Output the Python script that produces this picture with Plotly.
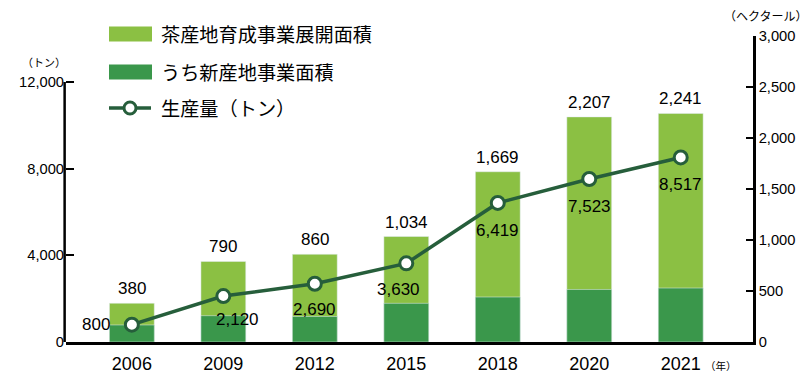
import plotly.graph_objects as go

years = ["2006", "2009", "2012", "2015", "2018", "2020", "2021"]
total_area = [380, 790, 860, 1034, 1669, 2207, 2241]          # 茶産地育成事業展開面積 (ha)
new_area = [167, 258, 250, 379, 441, 515, 529]                 # うち新産地事業面積 (ha)
production = [800, 2120, 2690, 3630, 6419, 7523, 8517]          # 生産量 (トン)
left_ticks = [0, 4000, 8000, 12000]
right_ticks = [0, 500, 1000, 1500, 2000, 2500, 3000]

LIGHT = "#8BC043"
DARK = "#3A974B"
LINE = "#265E3B"
NUM_FONT = "Liberation Sans, Arial, sans-serif"
JP_FONT = "Noto Sans CJK JP, sans-serif"

# the page body has an 8px margin; the figure starts at (8, 8) in the 810x380 window
OFF = 8
W, H = 810 - OFF, 380 - OFF
PL, PR, PT, PB = 66, 753, 36, 342          # plot area in window pixels
ML, MT = PL - OFF, PT - OFF
MR, MB = (W + OFF) - PR, (H + OFF) - PB
PW, PH = PR - PL, PB - PT


def px(x):
    return (x - PL) / PW


def py(y):
    return (PB - y) / PH


fig = go.Figure()
# bars on primary y (right-side area axis), line on y2 (left-side production axis) so it is drawn on top
fig.add_trace(go.Bar(x=years, y=total_area, yaxis="y", marker_color=LIGHT,
                     width=0.49, opacity=1, name="茶産地育成事業展開面積"))
fig.add_trace(go.Bar(x=years, y=new_area, yaxis="y", marker_color=DARK,
                     width=0.49, opacity=1, name="うち新産地事業面積"))
fig.add_trace(go.Scatter(x=years, y=production, yaxis="y2", mode="lines+markers",
                         line=dict(color=LINE, width=3.5),
                         marker=dict(size=13, color="white", line=dict(color=LINE, width=3)),
                         name="生産量（トン）", cliponaxis=False))

annotations = []
for i, v in enumerate(total_area):
    annotations.append(dict(x=i, y=v, xref="x", yref="y", text=f"{v:,}",
                            showarrow=False, xanchor="center", yanchor="bottom", yshift=3,
                            font=dict(family=NUM_FONT, size=17, color="black")))
shifts = [(-36, 0), (14, -23), (0, -26), (-8, -26), (0, -28), (0, -27), (0, -27)]
for i, (v, (dx, dy)) in enumerate(zip(production, shifts)):
    annotations.append(dict(x=i, y=v, xref="x", yref="y2", text=f"{v:,}",
                            showarrow=False, xanchor="center", yanchor="middle",
                            xshift=dx, yshift=dy,
                            font=dict(family=NUM_FONT, size=17, color="black")))

# legend (manual)
legend_rows = [("茶産地育成事業展開面積", 34), ("うち新産地事業面積", 72), ("生産量（トン）", 108)]
shapes = []
for i, (label, yy) in enumerate(legend_rows):
    annotations.append(dict(x=px(159), y=py(yy), xref="paper", yref="paper", text=label,
                            showarrow=False, xanchor="left", yanchor="middle",
                            font=dict(family=JP_FONT, size=19.2, color="black")))
    if i < 2:
        shapes.append(dict(type="rect", xref="paper", yref="paper",
                           x0=px(109), x1=px(152), y0=py(yy + 7.5), y1=py(yy - 7.5),
                           fillcolor=LIGHT if i == 0 else DARK, line=dict(width=0)))
    else:
        shapes.append(dict(type="line", xref="paper", yref="paper",
                           x0=px(109), x1=px(151), y0=py(yy), y1=py(yy),
                           line=dict(color=LINE, width=3.5)))
        shapes.append(dict(type="circle", xref="paper", yref="paper",
                           xsizemode="pixel", ysizemode="pixel",
                           xanchor=px(130), yanchor=py(yy),
                           x0=-6, x1=6, y0=-6, y1=6,
                           fillcolor="white", line=dict(color=LINE, width=3)))

# left axis line only up to 12,000
shapes.append(dict(type="line", xref="paper", yref="y2", x0=-0.002, x1=-0.002,
                   y0=0, y1=left_ticks[-1], line=dict(color="black", width=2.5)))

# unit labels
annotations += [
    dict(x=px(44), y=py(62), xref="paper", yref="paper", text="（トン）", showarrow=False,
         xanchor="center", yanchor="middle",
         font=dict(family=JP_FONT, size=11, color="black")),
    dict(x=px(766), y=py(15), xref="paper", yref="paper", text="（ヘクタール）", showarrow=False,
         xanchor="center", yanchor="middle",
         font=dict(family=JP_FONT, size=12, color="black")),
    dict(x=px(703), y=py(365), xref="paper", yref="paper", text="（年）", showarrow=False,
         xanchor="left", yanchor="middle",
         font=dict(family=JP_FONT, size=10.5, color="black")),
]

fig.update_layout(
    width=W, height=H,
    margin=dict(l=ML, r=MR, t=MT, b=MB, pad=0, autoexpand=False),
    plot_bgcolor="white", paper_bgcolor="white",
    barmode="overlay", showlegend=False,
    xaxis=dict(type="category", range=[-0.72, 6.79], showline=True, linecolor="black",
               linewidth=3, ticks="", showgrid=False, automargin=False,
               tickfont=dict(family=NUM_FONT, size=18, color="black"), ticklabelstandoff=3),
    yaxis=dict(range=[0, 3000], side="right", tickvals=right_ticks,
               ticktext=[f"{v:,}" for v in right_ticks],
               ticks="inside", ticklen=7, tickwidth=2, tickcolor="black",
               showline=True, linecolor="black", linewidth=2.5,
               showgrid=False, zeroline=False, automargin=False,
               tickfont=dict(family=NUM_FONT, size=14.7, color="black")),
    yaxis2=dict(range=[0, 14123], overlaying="y", side="left", tickvals=left_ticks,
                ticktext=[f"{v:,}" for v in left_ticks],
                ticks="inside", ticklen=8, tickwidth=2, tickcolor="black",
                showline=False, showgrid=False, zeroline=False, automargin=False,
                tickfont=dict(family=NUM_FONT, size=14.7, color="black"), ticklabelstandoff=1),
    annotations=annotations, shapes=shapes,
)

fig.write_html("out.html")
